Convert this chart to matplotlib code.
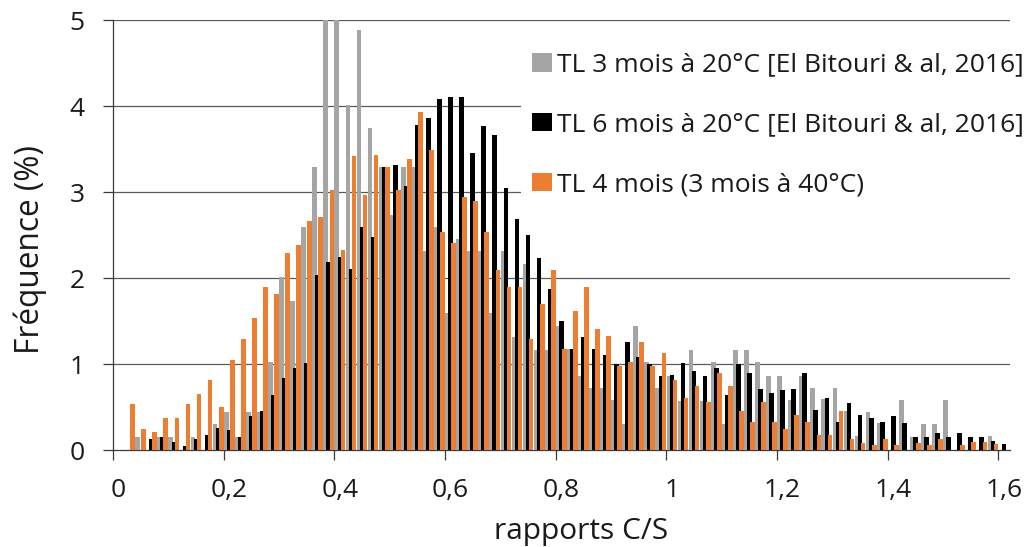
import matplotlib
matplotlib.use("Agg")
import matplotlib.pyplot as plt
from matplotlib.patches import Patch
import numpy as np

# ---- data (bins of C/S ratio, step 0.02) ----
ratio_bins = [round(0.02 * k, 2) for k in range(1, 81)]

tl3_20C = [0, 0.155, 0, 0.155, 0.155, 0, 0.155, 0, 0.30, 0.44,
           0.155, 0.44, 0.44, 1.02, 2.01, 1.73, 2.59, 3.29, 5.3, 5.3,
           4.01, 4.88, 3.74, 3.29, 2.73, 3.29, 3.29, 2.31, 2.59, 1.59,
           2.45, 2.31, 2.31, 1.59, 2.31, 1.31, 2.16, 1.16, 1.16, 1.44,
           1.17, 0.86, 0.72, 0.72, 0.58, 0.30, 1.44, 1.02, 0.72, 0.86,
           0.57, 1.16, 0.57, 1.02, 0.30, 1.16, 1.16, 1.02, 0.86, 0.86,
           0.58, 0.86, 0.72, 0.59, 0.72, 0.45, 0.16, 0.44, 0.31, 0,
           0.58, 0.155, 0.30, 0.30, 0.58, 0, 0, 0, 0.16, 0]

tl6_20C = [0, 0, 0.125, 0.155, 0.09, 0.045, 0.13, 0.17, 0.26, 0.23,
           0.155, 0.39, 0.45, 0.64, 0.84, 0.95, 1.01, 2.03, 2.19, 2.24,
           2.10, 2.59, 2.48, 3.29, 3.31, 3.07, 3.78, 3.86, 4.08, 4.10,
           4.10, 3.45, 3.77, 3.66, 3.05, 2.69, 2.50, 2.23, 1.87, 1.50,
           1.17, 1.31, 1.17, 1.10, 1.00, 1.26, 1.08, 1.00, 0.86, 0.87,
           1.01, 0.92, 0.86, 0.95, 0.64, 1.00, 0.89, 0.71, 0.66, 0.70,
           0.71, 0.89, 0.47, 0.60, 0.33, 0.55, 0.41, 0.37, 0.33, 0.40,
           0.31, 0.15, 0.15, 0.20, 0.15, 0.20, 0.15, 0.15, 0.10, 0.075]

tl4_40C = [0.535, 0.25, 0.21, 0.37, 0.37, 0.535, 0.65, 0.81, 0.50, 1.05,
           1.29, 1.53, 1.89, 1.81, 2.29, 2.38, 2.66, 2.71, 3.02, 2.33,
           3.42, 2.97, 3.43, 3.29, 3.02, 3.38, 3.93, 3.49, 2.53, 2.41,
           2.94, 2.90, 2.53, 2.09, 1.89, 1.89, 1.29, 1.70, 2.09, 1.17,
           1.62, 1.89, 1.41, 1.33, 0.98, 1.02, 1.26, 0.98, 1.13, 0.81,
           0.61, 0.74, 0.56, 0.89, 0.74, 0.45, 0.33, 0.56, 0.33, 0.25,
           0.41, 0.33, 0.17, 0.17, 0.45, 0.13, 0.085, 0.06, 0.13, 0.06,
           0, 0.085, 0.06, 0.13, 0, 0.06, 0.09, 0.09, 0.065, 0]

labels = ["TL 3 mois à 20°C [El Bitouri & al, 2016]",
          "TL 6 mois à 20°C [El Bitouri & al, 2016]",
          "TL 4 mois (3 mois à 40°C)"]
colors = ["#A5A5A5", "#000000", "#ED7D31"]

x_tick_values = [0, 0.2, 0.4, 0.6, 0.8, 1.0, 1.2, 1.4, 1.6]
x_tick_labels = ["0", "0,2", "0,4", "0,6", "0,8", "1", "1,2", "1,4", "1,6"]
y_ticks = [0, 1, 2, 3, 4, 5]

# ---- style ----
plt.rcParams['font.family'] = ['Open Sans', 'DejaVu Sans']
text_color = "#1a1a1a"

W, H = 1031, 547
fig = plt.figure(figsize=(W / 100, H / 100), dpi=100)
ax_l, ax_r, ax_t, ax_b = 113, 1009.5, 20, 450
ax = fig.add_axes([ax_l / W, 1 - ax_b / H, (ax_r - ax_l) / W, (ax_b - ax_t) / H])

x = np.array(ratio_bins)
bw = 0.0085
off = 0.0055
ax.bar(x - off, tl3_20C, width=bw, color=colors[0], zorder=3, label=labels[0])
ax.bar(x, tl6_20C, width=bw, color=colors[1], zorder=4, label=labels[1])
ax.bar(x + off, tl4_40C, width=bw, color=colors[2], zorder=5, label=labels[2])

ax.set_xlim(-0.01, 1.61)
ax.set_ylim(0, 5)

# grid
for yv in y_ticks[1:]:
    ax.axhline(yv, color="#5a5a5a", lw=0.9, zorder=1)

for s in ["top", "right"]:
    ax.spines[s].set_visible(False)
for s in ["left", "bottom"]:
    ax.spines[s].set_color("#3a3a3a")
    ax.spines[s].set_linewidth(0.9)

ax.set_yticks(y_ticks)
ax.set_yticklabels([str(v) for v in y_ticks])
ax.tick_params(axis="y", direction="out", length=7.5, width=0.9, color="#3a3a3a",
               pad=13, labelsize=19, labelcolor=text_color)

ax.set_xticks(x_tick_values)
ax.set_xticklabels(x_tick_labels)
ax.tick_params(axis="x", which="major", length=0, pad=20, labelsize=19, labelcolor=text_color)
ax.set_xticks([v - 0.01 for v in x_tick_values], minor=True)
ax.tick_params(axis="x", which="minor", direction="out", length=7.5, width=0.9, color="#3a3a3a")

ax.set_xlabel("rapports C/S", fontsize=21.5, color=text_color)
ax.xaxis.set_label_coords((581 - ax_l) / (ax_r - ax_l), -0.156)
ax.set_ylabel("Fréquence (%)", fontsize=22.8, color=text_color)
ax.yaxis.set_label_coords(-0.074, 0.465)

handles = [Patch(facecolor=c, edgecolor="none") for c in colors]
leg = ax.legend(handles, labels, loc="upper left",
                bbox_to_anchor=(521 / W, 1 - 42 / H), bbox_transform=fig.transFigure,
                fontsize=19, frameon=True, framealpha=1, facecolor="white",
                edgecolor="none", fancybox=False, handlelength=0.76, handleheight=0.7,
                handletextpad=0.2, labelspacing=1.32, borderpad=0.4, borderaxespad=0)
leg.set_zorder(10)
for t in leg.get_texts():
    t.set_color(text_color)

fig.savefig("out.png", dpi=100)
